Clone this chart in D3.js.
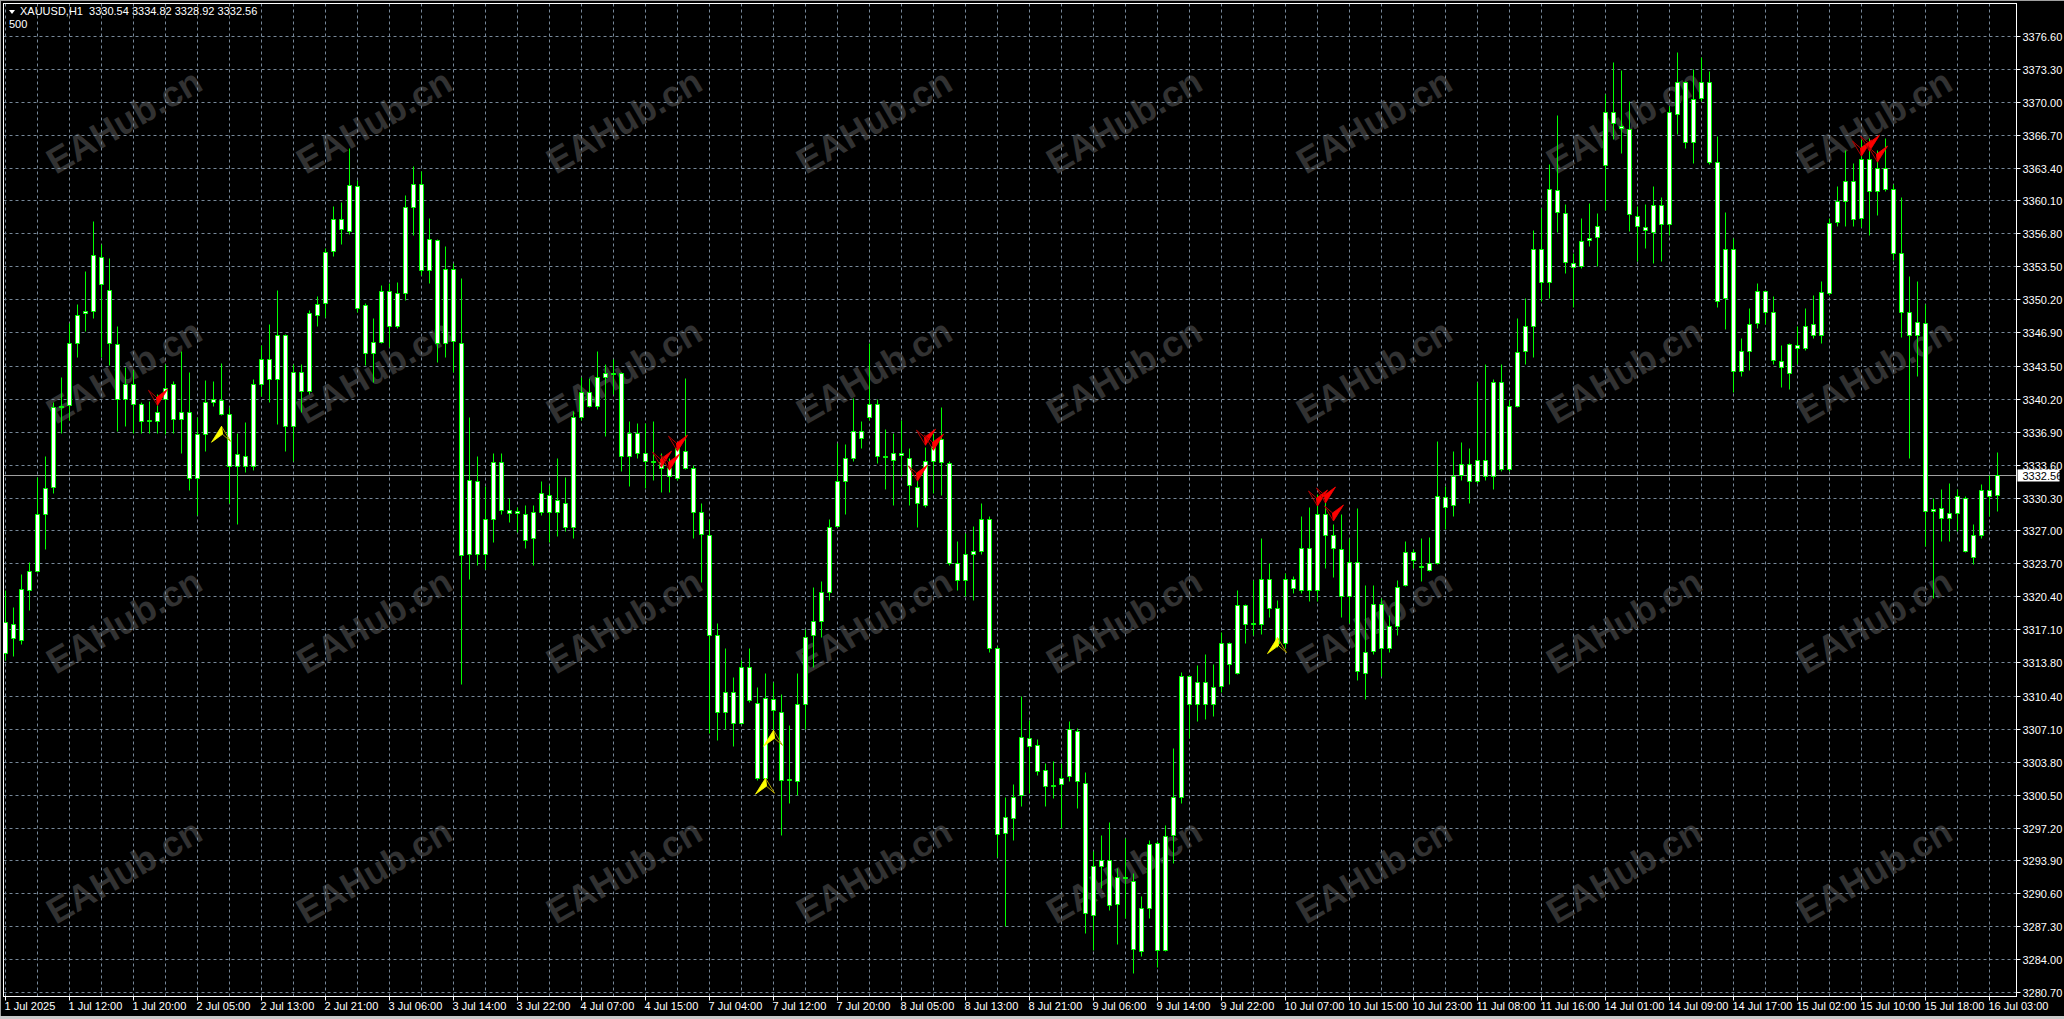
<!DOCTYPE html>
<html>
<head>
<meta charset="utf-8">
<script src="https://cdn.jsdelivr.net/npm/d3@7"></script>
<style>
  body { margin: 0; background: #000; overflow: hidden; }
  text { font-family: "Liberation Sans Narrow", "Arial Narrow", "Liberation Sans", sans-serif; }
</style>
</head>
<body>
<div id="chart"></div>
<script>
// header of the MT4 window
const symbol = "XAUUSD,H1";
const lastQuote = [3330.54, 3334.82, 3328.92, 3332.56];
const subTitle = "500";
const bidPrice = 3332.56;

// hourly candles (oldest first)
const opens = [
  3314.7, 3317.6, 3316.0, 3321.0, 3322.9, 3328.7, 3331.4, 3339.4, 3339.6, 3345.8,
  3348.8, 3349.0, 3354.4, 3351.1, 3345.7, 3340.2, 3341.7, 3339.7, 3338.0, 3338.0,
  3340.2, 3341.7, 3338.2, 3338.9, 3332.3, 3336.7, 3339.9, 3340.1, 3338.7, 3333.5,
  3334.5, 3333.5, 3341.7, 3344.2, 3342.2, 3346.6, 3337.5, 3342.9, 3341.0, 3348.6,
  3349.8, 3355.0, 3358.2, 3357.0, 3361.6, 3349.6, 3344.8, 3345.9, 3351.0, 3347.5,
  3350.8, 3359.4, 3361.8, 3353.1, 3356.1, 3345.8, 3353.2, 3345.8, 3324.6, 3332.0,
  3324.6, 3328.1, 3333.9, 3329.1, 3328.8, 3328.7, 3326.2, 3328.9, 3330.6, 3328.9,
  3329.8, 3327.3, 3338.4, 3340.9, 3339.5, 3342.4, 3342.8, 3342.8, 3334.5, 3336.8,
  3334.8, 3334.0, 3333.9, 3333.3, 3332.3, 3335.0, 3333.3, 3328.9, 3326.5, 3316.5,
  3308.8, 3310.8, 3307.7, 3313.3, 3309.7, 3302.2, 3310.1, 3308.8, 3302.0, 3301.9,
  3309.6, 3316.5, 3317.9, 3320.8, 3327.4, 3332.0, 3334.3, 3337.0, 3338.4, 3339.7,
  3334.5, 3334.1, 3334.8, 3334.3, 3331.4, 3329.6, 3334.0, 3336.2, 3333.8, 3323.7,
  3322.0, 3324.6, 3324.9, 3328.1, 3315.2, 3296.6, 3298.2, 3300.5, 3306.2, 3305.5,
  3303.0, 3301.4, 3301.6, 3302.4, 3306.9, 3301.7, 3288.4, 3293.3, 3293.9, 3289.5,
  3292.2, 3291.8, 3284.8, 3289.1, 3295.6, 3284.9, 3296.4, 3300.3, 3312.4, 3309.6,
  3311.8, 3309.6, 3311.4, 3315.7, 3312.7, 3319.5, 3317.6, 3317.6, 3322.1, 3319.2,
  3315.7, 3322.1, 3321.0, 3325.2, 3321.0, 3328.7, 3326.5, 3325.1, 3320.4, 3323.8,
  3312.7, 3314.9, 3319.6, 3315.2, 3317.4, 3321.5, 3324.8, 3323.4, 3323.0, 3323.7,
  3330.4, 3329.6, 3332.6, 3333.7, 3332.0, 3334.1, 3332.5, 3341.9, 3333.2, 3339.5,
  3345.0, 3347.5, 3355.2, 3351.9, 3361.2, 3358.8, 3353.8, 3353.5, 3356.1, 3356.4,
  3363.7, 3369.0, 3367.6, 3367.3, 3358.5, 3357.4, 3356.9, 3359.6, 3357.7, 3368.8,
  3372.0, 3366.0, 3370.4, 3372.0, 3364.0, 3350.3, 3355.2, 3343.0, 3345.0, 3347.8,
  3351.0, 3348.9, 3344.0, 3342.8, 3345.6, 3345.3, 3346.6, 3346.6, 3350.8, 3357.9,
  3360.0, 3362.1, 3358.3, 3364.3, 3361.1, 3363.4, 3361.3, 3354.8, 3348.9, 3346.6,
  3347.8, 3329.0, 3329.3, 3328.2, 3328.8, 3330.3, 3324.3, 3326.5, 3331.1, 3330.54
];
const highs = [
  3321.0, 3319.3, 3322.6, 3323.8, 3332.4, 3334.5, 3339.9, 3342.4, 3347.8, 3349.7,
  3353.0, 3358.0, 3355.7, 3354.3, 3347.5, 3343.4, 3343.1, 3339.9, 3340.0, 3340.7,
  3343.7, 3342.0, 3345.0, 3342.9, 3338.4, 3342.1, 3342.0, 3343.8, 3339.4, 3336.8,
  3337.9, 3342.2, 3345.6, 3347.7, 3351.1, 3346.7, 3343.7, 3343.7, 3349.1, 3350.5,
  3355.3, 3359.5, 3359.9, 3365.4, 3362.2, 3349.8, 3348.3, 3351.6, 3351.8, 3351.9,
  3360.6, 3363.6, 3363.1, 3358.3, 3356.2, 3355.5, 3353.8, 3352.3, 3338.4, 3334.5,
  3331.5, 3334.8, 3334.8, 3330.3, 3329.4, 3329.6, 3329.6, 3332.0, 3331.6, 3334.3,
  3332.4, 3339.0, 3342.4, 3342.3, 3345.0, 3343.7, 3344.2, 3342.9, 3338.0, 3337.8,
  3337.8, 3338.0, 3334.8, 3334.3, 3335.6, 3342.3, 3333.6, 3329.8, 3328.1, 3317.7,
  3315.2, 3312.3, 3314.0, 3315.2, 3311.3, 3312.7, 3311.8, 3310.6, 3307.5, 3312.7,
  3317.1, 3321.3, 3321.9, 3328.1, 3335.8, 3335.7, 3340.3, 3338.0, 3345.8, 3340.2,
  3337.2, 3336.8, 3338.1, 3335.3, 3332.3, 3335.4, 3336.8, 3339.4, 3334.0, 3325.9,
  3326.7, 3327.4, 3329.8, 3328.4, 3315.4, 3300.3, 3301.6, 3310.4, 3308.0, 3306.1,
  3303.7, 3303.9, 3303.7, 3307.9, 3307.2, 3302.8, 3294.8, 3296.4, 3297.8, 3293.1,
  3296.1, 3292.6, 3290.3, 3295.9, 3295.8, 3297.5, 3305.2, 3312.8, 3312.5, 3313.5,
  3314.6, 3313.6, 3316.8, 3315.8, 3321.0, 3319.6, 3322.0, 3326.2, 3323.7, 3320.0,
  3322.7, 3322.4, 3328.4, 3329.4, 3330.7, 3330.1, 3327.6, 3328.6, 3326.2, 3329.3,
  3321.5, 3321.5, 3320.2, 3318.5, 3322.0, 3325.9, 3325.1, 3326.2, 3326.3, 3336.0,
  3331.5, 3335.0, 3335.9, 3335.3, 3341.9, 3343.7, 3342.2, 3343.7, 3340.1, 3348.3,
  3350.3, 3357.1, 3359.3, 3363.8, 3368.7, 3359.7, 3354.8, 3358.3, 3359.8, 3358.8,
  3370.8, 3374.0, 3373.2, 3370.1, 3359.5, 3359.7, 3361.6, 3360.4, 3369.6, 3375.0,
  3372.1, 3373.3, 3374.5, 3373.1, 3366.6, 3358.9, 3356.3, 3346.3, 3349.3, 3351.8,
  3351.1, 3350.5, 3345.6, 3345.8, 3347.5, 3349.3, 3350.6, 3352.0, 3358.3, 3361.6,
  3365.2, 3363.9, 3366.3, 3366.4, 3365.2, 3366.4, 3361.8, 3360.4, 3352.5, 3352.0,
  3349.7, 3330.3, 3331.2, 3331.8, 3331.2, 3330.5, 3327.6, 3331.7, 3332.6, 3334.82
];
const lows = [
  3314.0, 3314.4, 3315.6, 3319.0, 3322.8, 3325.1, 3330.8, 3336.8, 3338.1, 3344.4,
  3347.0, 3348.3, 3344.4, 3343.6, 3337.0, 3337.5, 3336.8, 3336.8, 3336.8, 3336.8,
  3336.7, 3336.8, 3334.8, 3331.1, 3328.5, 3335.0, 3339.5, 3338.6, 3329.8, 3327.6,
  3332.9, 3333.1, 3340.5, 3339.9, 3337.7, 3335.0, 3334.0, 3338.9, 3340.7, 3347.5,
  3348.4, 3354.5, 3355.7, 3356.7, 3348.9, 3343.6, 3341.9, 3345.8, 3345.4, 3347.3,
  3350.1, 3356.6, 3352.6, 3351.8, 3343.9, 3344.4, 3342.9, 3311.6, 3322.1, 3323.5,
  3323.1, 3325.8, 3328.7, 3327.8, 3326.8, 3325.2, 3323.5, 3328.5, 3325.8, 3326.4,
  3326.9, 3326.2, 3338.1, 3339.4, 3339.2, 3336.5, 3340.7, 3333.0, 3331.5, 3334.3,
  3331.3, 3332.1, 3330.9, 3330.9, 3332.1, 3333.2, 3326.2, 3321.8, 3306.7, 3306.0,
  3307.1, 3305.4, 3307.6, 3309.8, 3302.0, 3301.4, 3306.7, 3296.4, 3299.7, 3300.5,
  3307.1, 3313.3, 3316.3, 3320.0, 3327.3, 3328.6, 3334.0, 3335.3, 3338.1, 3333.8,
  3331.2, 3329.6, 3332.5, 3329.6, 3327.3, 3329.4, 3330.8, 3330.6, 3323.5, 3321.0,
  3320.4, 3320.0, 3324.6, 3314.8, 3294.2, 3287.3, 3295.9, 3299.4, 3300.7, 3302.5,
  3299.4, 3300.2, 3297.2, 3301.9, 3299.2, 3286.6, 3284.9, 3291.1, 3288.9, 3285.5,
  3288.1, 3282.6, 3284.3, 3288.1, 3283.2, 3284.8, 3293.6, 3299.7, 3306.2, 3307.9,
  3308.1, 3308.4, 3310.8, 3311.6, 3312.6, 3315.7, 3316.5, 3316.6, 3318.3, 3315.3,
  3315.2, 3320.7, 3320.7, 3319.9, 3319.9, 3323.2, 3322.3, 3318.3, 3317.7, 3312.0,
  3310.1, 3314.6, 3312.4, 3314.8, 3316.5, 3321.4, 3323.2, 3321.9, 3322.9, 3323.6,
  3327.1, 3328.4, 3332.1, 3329.8, 3331.8, 3332.1, 3331.2, 3333.0, 3333.0, 3339.4,
  3343.7, 3344.4, 3350.0, 3350.3, 3356.9, 3352.8, 3349.4, 3353.3, 3355.5, 3353.5,
  3359.1, 3366.3, 3364.9, 3357.0, 3354.0, 3355.3, 3353.8, 3354.0, 3356.6, 3366.8,
  3365.4, 3363.9, 3370.1, 3363.8, 3349.4, 3347.2, 3340.9, 3342.5, 3343.1, 3347.3,
  3347.7, 3343.7, 3341.4, 3341.2, 3343.7, 3345.1, 3346.3, 3345.8, 3350.6, 3357.5,
  3357.5, 3357.5, 3357.4, 3356.6, 3358.6, 3361.1, 3354.1, 3346.4, 3334.3, 3342.5,
  3325.4, 3320.2, 3325.9, 3325.9, 3326.9, 3324.8, 3323.6, 3326.2, 3328.4, 3328.92
];
const closes = [
  3317.8, 3316.2, 3321.1, 3322.9, 3328.6, 3331.3, 3339.4, 3339.5, 3345.8, 3348.6,
  3349.0, 3354.6, 3351.7, 3345.8, 3340.2, 3341.7, 3339.7, 3338.0, 3338.1, 3338.9,
  3341.3, 3338.2, 3338.9, 3332.3, 3336.7, 3339.9, 3340.2, 3338.7, 3333.5, 3334.7,
  3333.5, 3341.7, 3344.2, 3342.2, 3346.6, 3337.5, 3342.9, 3341.0, 3348.8, 3349.7,
  3354.9, 3358.2, 3357.2, 3361.7, 3349.3, 3344.8, 3345.9, 3351.0, 3347.5, 3350.8,
  3359.4, 3361.8, 3353.1, 3356.2, 3345.8, 3353.2, 3346.0, 3324.5, 3332.1, 3324.6,
  3328.1, 3333.9, 3329.1, 3328.8, 3329.0, 3326.0, 3328.9, 3330.8, 3328.9, 3330.1,
  3327.3, 3338.4, 3340.9, 3339.5, 3342.4, 3342.8, 3342.7, 3334.5, 3336.8, 3334.8,
  3334.0, 3333.9, 3333.3, 3332.5, 3335.3, 3333.3, 3328.9, 3326.6, 3316.5, 3308.8,
  3310.8, 3307.7, 3313.3, 3310.0, 3302.2, 3310.2, 3309.0, 3302.0, 3302.1, 3309.6,
  3316.3, 3317.9, 3320.8, 3327.3, 3332.0, 3334.3, 3337.0, 3336.3, 3339.7, 3334.5,
  3334.4, 3334.8, 3334.6, 3331.6, 3329.8, 3334.0, 3335.5, 3333.9, 3323.7, 3322.0,
  3324.6, 3324.9, 3328.1, 3315.2, 3296.5, 3298.3, 3300.3, 3306.3, 3305.4, 3302.9,
  3301.4, 3301.5, 3302.2, 3307.1, 3301.9, 3288.6, 3293.3, 3293.9, 3289.4, 3292.2,
  3292.1, 3285.0, 3289.1, 3295.5, 3284.9, 3296.3, 3300.3, 3312.4, 3309.6, 3311.8,
  3309.6, 3311.3, 3315.7, 3313.6, 3319.5, 3317.6, 3317.7, 3322.1, 3319.2, 3315.7,
  3322.1, 3321.2, 3325.2, 3321.0, 3328.7, 3326.5, 3325.2, 3320.4, 3323.8, 3312.9,
  3314.8, 3319.6, 3315.2, 3317.4, 3321.3, 3324.8, 3324.0, 3323.3, 3323.7, 3330.5,
  3329.4, 3332.5, 3333.7, 3332.0, 3334.1, 3332.5, 3341.9, 3333.2, 3339.5, 3344.9,
  3347.5, 3355.2, 3351.9, 3361.3, 3358.9, 3353.9, 3353.4, 3356.0, 3356.3, 3357.5,
  3369.0, 3367.9, 3367.4, 3358.7, 3357.5, 3357.1, 3359.6, 3357.7, 3369.0, 3372.0,
  3366.0, 3370.3, 3372.0, 3364.0, 3350.0, 3355.2, 3343.0, 3345.0, 3347.7, 3351.0,
  3348.9, 3344.1, 3343.4, 3345.7, 3345.3, 3347.5, 3347.7, 3350.9, 3357.8, 3360.0,
  3362.1, 3358.2, 3364.3, 3361.1, 3363.4, 3361.3, 3354.8, 3348.9, 3346.6, 3347.9,
  3329.0, 3329.2, 3328.2, 3328.8, 3330.5, 3324.9, 3326.5, 3331.1, 3330.5, 3332.56
];

// signal arrows: bar index and tip price
const sellBars = [19, 82, 83, 84, 114, 115, 116, 164, 165, 166, 232, 233, 234];
const sellPrices = [3339.6, 3333.4, 3333.1, 3335.0, 3332.0, 3335.6, 3335.1, 3329.5, 3329.8, 3328.0, 3364.6, 3365.1, 3364.0];
const buyBars = [27, 95, 96, 159];
const buyPrices = [3337.5, 3302.2, 3307.0, 3316.3];

// axis labels
const priceTicks = [
  3376.60, 3373.30, 3370.00, 3366.70, 3363.40, 3360.10, 3356.80, 3353.50, 3350.20, 3346.90,
  3343.50, 3340.20, 3336.90, 3333.60, 3330.30, 3327.00, 3323.70, 3320.40, 3317.10, 3313.80,
  3310.40, 3307.10, 3303.80, 3300.50, 3297.20, 3293.90, 3290.60, 3287.30, 3284.00, 3280.70
];
const timeLabels = [
  "1 Jul 2025", "1 Jul 12:00", "1 Jul 20:00", "2 Jul 05:00", "2 Jul 13:00", "2 Jul 21:00",
  "3 Jul 06:00", "3 Jul 14:00", "3 Jul 22:00", "4 Jul 07:00", "4 Jul 15:00", "7 Jul 04:00",
  "7 Jul 12:00", "7 Jul 20:00", "8 Jul 05:00", "8 Jul 13:00", "8 Jul 21:00", "9 Jul 06:00",
  "9 Jul 14:00", "9 Jul 22:00", "10 Jul 07:00", "10 Jul 15:00", "10 Jul 23:00", "11 Jul 08:00",
  "11 Jul 16:00", "14 Jul 01:00", "14 Jul 09:00", "14 Jul 17:00", "15 Jul 02:00", "15 Jul 10:00",
  "15 Jul 18:00", "16 Jul 03:00"
];
const barsPerLabel = 8;
const barsPerGrid = 4;

const watermark = "EAHub.cn";

// layout
const width = 2064, height = 1019;
const plot = { left: 3.5, top: 3.5, right: 2016.5, bottom: 996.5 };

const candles = opens.map((o, i) => ({
  i, o, h: highs[i], l: lows[i], c: closes[i]
}));

const x = d3.scaleLinear().domain([0, 248]).range([5.5, 1989.5]);
const y = d3.scaleLinear().domain([3280.7, 3376.6]).range([992.5, 36.5]);
const py = v => Math.round(y(v) - 0.5) + 0.5;

const svg = d3.select("#chart")
  .append("svg")
  .attr("width", width)
  .attr("height", height)
  .style("display", "block");

svg.append("rect").attr("width", width).attr("height", height).attr("fill", "#000");

// window edges
svg.append("rect").attr("x", 0).attr("y", 0).attr("width", width).attr("height", 1).attr("fill", "#a0a0a0");
svg.append("rect").attr("x", 0).attr("y", 0).attr("width", 1).attr("height", height).attr("fill", "#a0a0a0");
svg.append("rect").attr("x", 0).attr("y", 1016).attr("width", width).attr("height", 3).attr("fill", "#c8c8c8");

// watermark grid
const wmCols = d3.range(8), wmRows = d3.range(4);
svg.append("g")
  .selectAll("text")
  .data(d3.cross(wmCols, wmRows))
  .join("text")
  .attr("transform", d => `translate(${124 + d[0] * 250},${121 + d[1] * 250}) rotate(-30)`)
  .attr("text-anchor", "middle")
  .attr("dy", "0.35em")
  .style("font-family", "'Liberation Sans', Arial, sans-serif")
  .style("font-weight", "bold")
  .style("font-size", "36px")
  .attr("fill", "#323232")
  .text(watermark);

// grid
const grid = svg.append("g")
  .attr("stroke", "#778899")
  .attr("stroke-width", 1)
  .attr("stroke-dasharray", "3,3");

grid.selectAll(".hgrid")
  .data(priceTicks)
  .join("line")
  .attr("class", "hgrid")
  .attr("x1", plot.left).attr("x2", plot.right)
  .attr("y1", d => py(d)).attr("y2", d => py(d));

const gridBars = d3.range(0, 252, barsPerGrid).filter(b => x(b) < plot.right);
grid.selectAll(".vgrid")
  .data(gridBars)
  .join("line")
  .attr("class", "vgrid")
  .attr("x1", d => x(d)).attr("x2", d => x(d))
  .attr("y1", plot.top).attr("y2", plot.bottom);

// bid line
svg.append("line")
  .attr("x1", plot.left).attr("x2", plot.right)
  .attr("y1", py(bidPrice)).attr("y2", py(bidPrice))
  .attr("stroke", "#a0a0a0");

// candles
svg.append("defs").append("clipPath").attr("id", "plot-clip")
  .append("rect")
  .attr("x", plot.left + 0.5).attr("y", plot.top + 0.5)
  .attr("width", plot.right - plot.left - 1).attr("height", plot.bottom - plot.top - 1);

const cg = svg.append("g").attr("clip-path", "url(#plot-clip)");

cg.selectAll(".wick")
  .data(candles)
  .join("line")
  .attr("class", "wick")
  .attr("x1", d => x(d.i)).attr("x2", d => x(d.i))
  .attr("y1", d => py(d.h)).attr("y2", d => py(d.l))
  .attr("stroke", "#00ff00");

cg.selectAll(".body")
  .data(candles)
  .join("path")
  .attr("class", "body")
  .attr("d", d => {
    const x0 = x(d.i) - 2, x1 = x(d.i) + 2;
    const y0 = py(Math.max(d.o, d.c)), y1 = py(Math.min(d.o, d.c));
    return `M${x0},${y0}H${x1}V${y1}H${x0}Z`;
  })
  .attr("fill", "#ffffff")
  .attr("stroke", "#00ff00");

// arrows: sell darts point down (filled right half), buy darts point up (rotated copy)
const dartFilled = "M0,0 L-1,-8 L10,-16 Z";
const dartOutline = "M0,0 L-1,-8 L-9,-15 Z";

function drawDarts(bars, prices, fill, edge, rot) {
  const g = cg.append("g");
  const items = bars.map((b, k) => ({ b, p: prices[k] }));
  const a = g.selectAll("g")
    .data(items)
    .join("g")
    .attr("transform", d => `translate(${x(d.b)},${y(d.p)}) rotate(${rot})`);
  a.append("path").attr("d", dartOutline)
    .attr("fill", "none").attr("stroke", edge).attr("stroke-width", 1);
  a.append("path").attr("d", dartFilled)
    .attr("fill", fill).attr("stroke", fill).attr("stroke-width", 0.8);
}
drawDarts(sellBars, sellPrices, "#ff0000", "#b00000", 0);
drawDarts(buyBars, buyPrices, "#ffff00", "#b0a000", 180);

// frame
svg.append("rect")
  .attr("x", plot.left).attr("y", plot.top)
  .attr("width", plot.right - plot.left).attr("height", plot.bottom - plot.top)
  .attr("fill", "none").attr("stroke", "#ffffff");

// price axis
const pa = svg.append("g");
pa.selectAll("line")
  .data(priceTicks)
  .join("line")
  .attr("x1", plot.right).attr("x2", plot.right + 4)
  .attr("y1", d => py(d)).attr("y2", d => py(d))
  .attr("stroke", "#ffffff");
pa.selectAll("text")
  .data(priceTicks)
  .join("text")
  .attr("x", plot.right + 6)
  .attr("y", d => py(d) + 4)
  .attr("fill", "#ffffff")
  .style("font-size", "11px")
  .text(d => d3.format(".2f")(d));

// bid label
svg.append("rect")
  .attr("x", plot.right + 1).attr("y", py(bidPrice) - 6)
  .attr("width", 42).attr("height", 12)
  .attr("fill", "#ffffff");
svg.append("text")
  .attr("x", plot.right + 6).attr("y", py(bidPrice) + 4)
  .attr("fill", "#000000")
  .style("font-size", "11px")
  .text(d3.format(".2f")(bidPrice));

// time axis
const ta = svg.append("g");
ta.selectAll("line")
  .data(timeLabels)
  .join("line")
  .attr("x1", (d, k) => x(k * barsPerLabel)).attr("x2", (d, k) => x(k * barsPerLabel))
  .attr("y1", plot.bottom).attr("y2", plot.bottom + 4)
  .attr("stroke", "#ffffff");
ta.selectAll("text")
  .data(timeLabels)
  .join("text")
  .attr("x", (d, k) => x(k * barsPerLabel) - 1)
  .attr("y", plot.bottom + 13)
  .attr("fill", "#ffffff")
  .style("font-size", "11px")
  .text(d => d);

// header
svg.append("path").attr("d", "M9,10 L15,10 L12,14 Z").attr("fill", "#ffffff");
svg.append("text")
  .attr("x", 20).attr("y", 15)
  .attr("fill", "#ffffff")
  .style("font-size", "11px")
  .style("white-space", "pre")
  .text(`${symbol}  ${lastQuote.map(d3.format(".2f")).join(" ")}`);
svg.append("text")
  .attr("x", 9).attr("y", 28)
  .attr("fill", "#ffffff")
  .style("font-size", "11px")
  .text(subTitle);
</script>
</body>
</html>
